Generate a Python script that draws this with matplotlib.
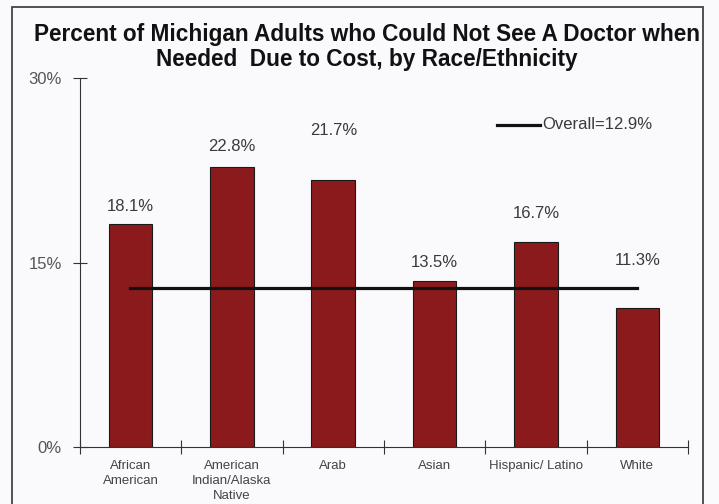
import matplotlib
matplotlib.use('Agg')
import matplotlib.pyplot as plt
import numpy as np
from matplotlib.patches import Rectangle

plt.rcParams['font.family'] = ['Liberation Sans', 'DejaVu Sans']

groups = ['African\nAmerican', 'American\nIndian/Alaska\nNative', 'Arab',
          'Asian', 'Hispanic/ Latino', 'White']
rates = [18.1, 22.8, 21.7, 13.5, 16.7, 11.3]
overall = 12.9
yticks = [0, 15, 30]

# how far above each bar its label sits (percentage points)
label_lift = [1.5, 1.6, 4.0, 1.5, 2.3, 3.9]

bg = '#fafafd'
fig = plt.figure(figsize=(7.19, 5.04), dpi=100, facecolor=bg)
ax = fig.add_axes([0.111, 0.113, 0.846, 0.732], facecolor=bg)

x = np.arange(len(groups))
ax.bar(x, rates, width=0.43, color='#8b1a1d', edgecolor='#1a1a1a', linewidth=0.8, zorder=2)
for xi, r, lift in zip(x, rates, label_lift):
    ax.text(xi, r + lift, f'{r}%', ha='center', va='center', fontsize=12, color='#3a3a3a')

# overall average across the groups
ax.plot([x[0], x[-1]], [overall, overall], color='#111111', lw=2.3, zorder=3)
ax.plot([3.62, 4.04], [26.2, 26.2], color='#111111', lw=2.3)
ax.text(4.06, 26.2, f'Overall={overall}%', va='center', fontsize=12, color='#3a3a3a')

ax.set_xlim(-0.5, 5.5)
ax.set_ylim(0, 30)
ax.set_yticks(yticks)
ax.set_yticklabels([f'{t}%' for t in yticks], fontsize=12, color='#555555')
ax.set_xticks(np.arange(-0.5, 6, 1))
ax.set_xticklabels([])
ax.set_xticks(x, minor=True)
ax.set_xticklabels(groups, minor=True, fontsize=9.5, color='#444444', linespacing=1.35, va='top')
ax.tick_params(axis='x', which='minor', length=0, pad=9)
ax.tick_params(axis='x', which='major', direction='inout', length=10, color='#333333')
ax.tick_params(axis='y', direction='inout', length=10, color='#333333', pad=8)
for s in ['top', 'right']:
    ax.spines[s].set_visible(False)
for s in ['left', 'bottom']:
    ax.spines[s].set_color('#333333')

fig.text(0.51, 0.907, 'Percent of Michigan Adults who Could Not See A Doctor when\nNeeded  Due to Cost, by Race/Ethnicity',
         ha='center', va='center', fontsize=16.3, fontweight='bold', color='#111111', linespacing=1.1)

# outer frame, open at the bottom
fig.add_artist(Rectangle((12 / 719, -0.05), (703 - 12) / 719, 1.05 - 7 / 504,
                         transform=fig.transFigure, fill=False, edgecolor='#444444', lw=1.3))

fig.savefig('out.png', dpi=100, facecolor=bg)
